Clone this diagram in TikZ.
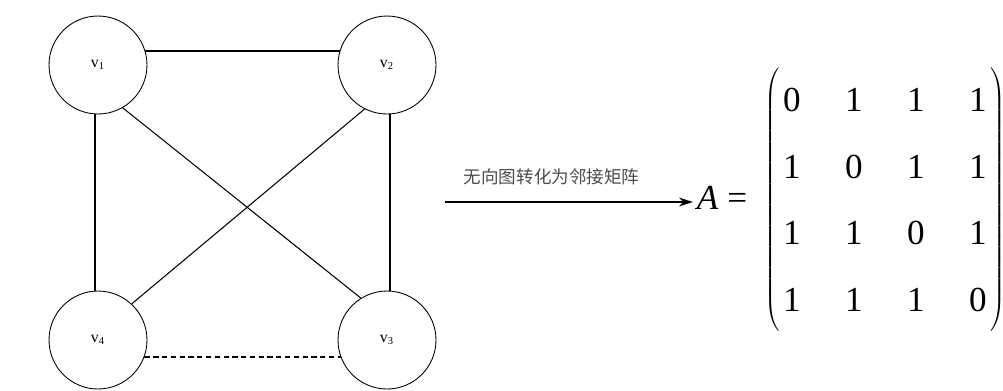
\documentclass[tikz,border=0pt]{standalone}
\usepackage{fontspec}
\newfontfamily\cjk{Noto Sans CJK SC}
\newfontfamily\tnr{LiberationSerif-Regular.ttf}[ItalicFont=LiberationSerif-Italic.ttf]
\usetikzlibrary{arrows.meta,matrix}

\begin{document}
\begin{tikzpicture}[x=0.02cm,y=-0.02cm,
    knoten/.style={circle,draw,line width=0.5pt,minimum size=1.96cm,inner sep=0pt,font=\tnr\small},
    kante/.style={line width=1.1pt},
    diag/.style={line width=0.6pt}]
    \useasboundingbox (0,0) rectangle (1003,390);
    \clip (0,0) rectangle (1003,390);
    % Knoten zeichnen
    \node[knoten] (v1) at (98,65) {v\textsubscript{1}};
    \node[knoten] (v2) at (387,65) {v\textsubscript{2}};
    \node[knoten] (v3) at (387,340) {v\textsubscript{3}};
    \node[knoten] (v4) at (98,340) {v\textsubscript{4}};
    % Kanten
    \draw[kante] (v1.17) -- (v2.163);
    \draw[kante] (v1.266) -- (v4.94);
    \draw[kante] (v2.274) -- (v3.86);
    \draw[kante,densely dashed] (v4.-20) -- (v3.200);
    \draw[diag] (v1.-60) -- (v3.122);
    \draw[diag] (v2.243) -- (v4.47);
    % Pfeil mit Beschriftung
    \node[font=\tnr\fontsize{20}{24}\selectfont,inner sep=2pt] (eqA) at (722,198) {\textit{A} =};
    \coordinate (start) at (445,202);
    \draw[-{Stealth[length=8pt,width=5pt]},line width=1.2pt] (start) -- (start -| eqA.west)
        node[pos=0.43,above=6pt,font=\cjk\fontsize{10}{12}\selectfont,text=black!70] {无向图转化为邻接矩阵};
    % Matrix
    \matrix (adj) at (885,200) [matrix of nodes,
        nodes={minimum width=0.4cm,minimum height=1.33cm,inner sep=0pt,font=\tnr\fontsize{20}{24}\selectfont},
        column sep=0.84cm,row sep=0pt,inner sep=0pt,
        left delimiter={(},right delimiter={)},
        every left delimiter/.style={blue!40!black,xshift=-3pt},
        every right delimiter/.style={red!45!black}] {
        0 & 1 & 1 & 1 \\
        1 & 0 & 1 & 1 \\
        1 & 1 & 0 & 1 \\
        1 & 1 & 1 & 0 \\
    };
\end{tikzpicture}
\end{document}
